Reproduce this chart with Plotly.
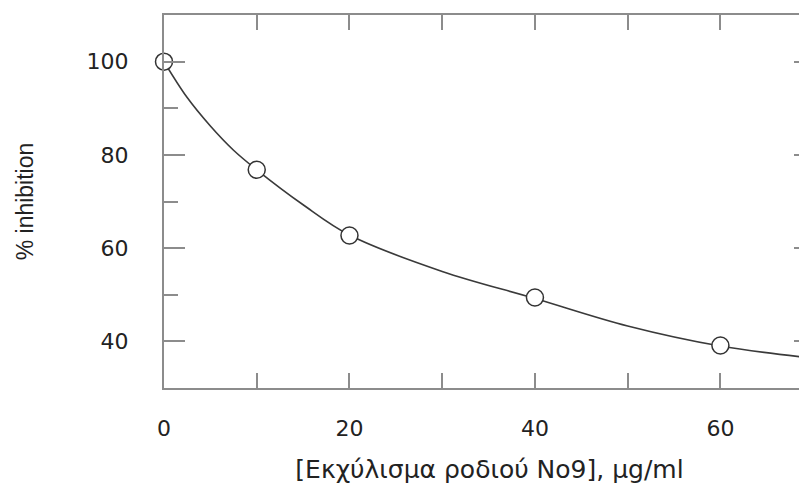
import plotly.graph_objects as go

# Measured points
conc = [0, 10, 20, 40, 60]
inhibition = [100, 76.8, 62.7, 49.4, 39.1]

# Fitted curve
curve_x = [0, 2.5, 5, 7.5, 10, 15, 20, 30, 40, 50, 60, 70]
curve_y = [100, 92.3, 86.2, 81.0, 76.8, 69.3, 62.8, 55.0, 49.2, 43.3, 39.0, 36.4]

x_tickvals = [0, 20, 40, 60]
y_tickvals = [40, 60, 80, 100]

x_title = "[Εκχύλισμα ροδιού No9], μg/ml"
y_title = "% inhibition"

axis_col = "#8c8c8c"
wide_font = "DejaVu Sans, Verdana, sans-serif"
narrow_font = "Liberation Sans, Arial, sans-serif"

fig = go.Figure()
fig.add_trace(go.Scatter(x=curve_x, y=curve_y, mode="lines",
                         line=dict(color="#3a3a3a", width=1.6, shape="spline", smoothing=1.0),
                         hoverinfo="skip", showlegend=False))
fig.add_trace(go.Scatter(x=conc, y=inhibition, mode="markers",
                         marker=dict(symbol="circle", size=17, color="white",
                                     line=dict(color="#333333", width=1.5)),
                         showlegend=False, cliponaxis=False))

fig.update_layout(
    width=807, height=485,
    margin=dict(l=156, r=0, t=7, b=105, autoexpand=False),
    plot_bgcolor="white", paper_bgcolor="white",
    font=dict(family=wide_font, color="#222222"),
    xaxis=dict(range=[0, 70.2], tickvals=x_tickvals, ticks="inside", ticklen=15,
               tickwidth=2, tickcolor=axis_col, automargin=False,
               minor=dict(dtick=10, ticks="inside", ticklen=15, tickwidth=2, tickcolor=axis_col),
               showline=True, linecolor=axis_col, linewidth=2, mirror="ticks",
               showgrid=False, zeroline=False,
               tickfont=dict(size=22, color="#222222"), ticklabelstandoff=20,
               title=dict(text=x_title, font=dict(size=25, color="#222222"), standoff=20)),
    yaxis=dict(range=[30, 110], tickvals=y_tickvals, ticks="inside", ticklen=21,
               tickwidth=2, tickcolor=axis_col, automargin=False,
               minor=dict(dtick=10, ticks="inside", ticklen=14, tickwidth=2, tickcolor=axis_col),
               showline=True, linecolor=axis_col, linewidth=2, mirror="ticks",
               showgrid=False, zeroline=False,
               tickfont=dict(size=22, color="#222222"), ticklabelstandoff=29,
               title=dict(text=y_title, font=dict(family=narrow_font, size=23, color="#222222"),
                          standoff=47)),
)

fig.write_html("out.html")
